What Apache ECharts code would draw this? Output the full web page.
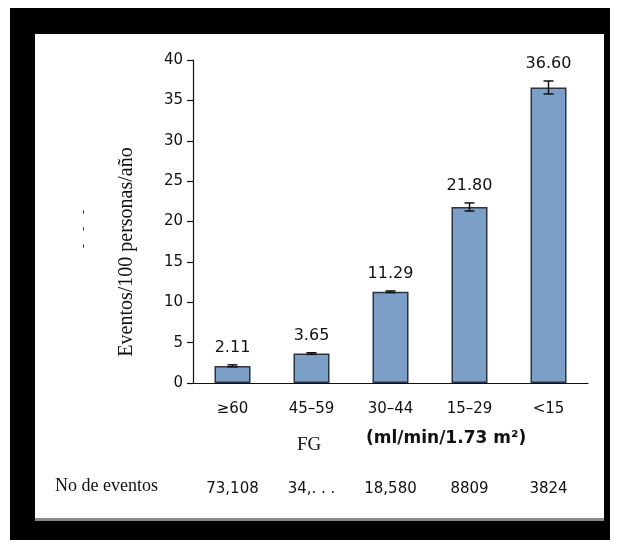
<!DOCTYPE html>
<html>
<head>
<meta charset="utf-8">
<script src="https://cdn.jsdelivr.net/npm/echarts@6/dist/echarts.min.js"></script>
<style>
  html, body { margin: 0; padding: 0; background: #fff; }
  #chart { width: 618px; height: 548px; }
</style>
</head>
<body>
<div id="chart"></div>
<script>
// FG groups (ml/min/1.73 m2)
const categories = ['≥60', '45–59', '30–44', '15–29', '<15'];
// events per 100 person-years
const rates = [2.11, 3.65, 11.29, 21.80, 36.60];
// error bar ends
const errLow = [2.0, 3.55, 11.2, 21.3, 35.8];
const errHigh = [2.25, 3.75, 11.4, 22.3, 37.4];
// number of events under each group
const eventCounts = ['73,108', '34,. . .', '18,580', '8809', '3824'];
const yTicks = { min: 0, max: 40, interval: 5 };

const myChart = echarts.init(document.getElementById('chart'));

const sans = 'DejaVu Sans';
const serif = 'Liberation Serif';

// error bar + value label drawn from the data
function renderErr(params, api) {
    const i = api.value(0);
    const lo = api.coord([i, api.value(1)]);
    const hi = api.coord([i, api.value(2)]);
    const cap = 5;
    const st = { stroke: '#111', lineWidth: 1.5 };
    return {
        type: 'group',
        children: [
            { type: 'line', shape: { x1: hi[0], y1: hi[1], x2: lo[0], y2: lo[1] }, style: st },
            { type: 'line', shape: { x1: hi[0] - cap, y1: hi[1], x2: hi[0] + cap, y2: hi[1] }, style: st },
            { type: 'line', shape: { x1: lo[0] - cap, y1: lo[1], x2: lo[0] + cap, y2: lo[1] }, style: st },
            {
                type: 'text',
                x: hi[0], y: hi[1] - 17,
                style: {
                    text: rates[i].toFixed(2),
                    fill: '#111', font: '16px "' + sans + '"',
                    align: 'center', verticalAlign: 'middle'
                }
            }
        ]
    };
}

const option = {
    backgroundColor: '#fff',
    animation: false,
    graphic: [
        // black photo frame
        { type: 'rect', z: -10, shape: { x: 10, y: 8, width: 600, height: 532 }, style: { fill: '#000' } },
        { type: 'rect', z: -9, shape: { x: 35, y: 34, width: 569, height: 487 }, style: { fill: '#fff' } },
        { type: 'rect', z: -8, shape: { x: 35, y: 518, width: 569, height: 3 }, style: { fill: '#8a8a8a' } },
        { type: 'text', left: 55, top: 477, style: { text: 'No de eventos', fill: '#111', font: '18px "' + serif + '"' } },
        { type: 'text', left: 297, top: 436, style: { text: 'FG', fill: '#111', font: '19px "' + serif + '"' } },
        { type: 'text', left: 366, top: 430, style: { text: '(ml/min/1.73 m²)', fill: '#111', font: 'bold 17px "' + sans + '"' } },
        {
            type: 'text', x: 127, y: 252, rotation: Math.PI / 2,
            style: { text: 'Eventos/100 personas/año', fill: '#111', font: '20px "' + serif + '"', align: 'center', verticalAlign: 'middle' }
        },
        { type: 'text', x: 84, y: 229, rotation: Math.PI / 2, style: { text: '-   -   -', fill: '#333', font: '13px "' + sans + '"', align: 'center', verticalAlign: 'middle' } }
    ],
    grid: { left: 193, top: 60, width: 395, height: 323, containLabel: false },
    xAxis: [
        {
            type: 'category',
            data: categories,
            axisLine: { lineStyle: { color: '#111', width: 1.2 } },
            axisTick: { alignWithLabel: true, length: 7, lineStyle: { color: '#111', width: 1.2 } },
            axisLabel: { color: '#111', fontFamily: sans, fontSize: 15, margin: 19 }
        },
        {
            type: 'category',
            position: 'bottom',
            offset: 91,
            data: eventCounts,
            axisLine: { show: false },
            axisTick: { show: false },
            axisLabel: { color: '#111', fontFamily: sans, fontSize: 15 }
        }
    ],
    yAxis: {
        type: 'value',
        min: yTicks.min, max: yTicks.max, interval: yTicks.interval,
        axisLine: { show: true, lineStyle: { color: '#111', width: 1.2 } },
        axisTick: { show: true, length: 6, lineStyle: { color: '#111', width: 1.2 } },
        axisLabel: { color: '#111', fontFamily: sans, fontSize: 15, margin: 10 },
        splitLine: { show: false }
    },
    series: [
        {
            type: 'bar',
            data: rates,
            barWidth: 36,
            itemStyle: { color: '#7b9fc7', borderColor: '#2b3440', borderWidth: 1.5 }
        },
        {
            type: 'custom',
            renderItem: renderErr,
            encode: { x: 0, y: [1, 2] },
            data: categories.map((c, i) => [i, errLow[i], errHigh[i]]),
            z: 5
        }
    ]
};

myChart.setOption(option);
</script>
</body>
</html>
